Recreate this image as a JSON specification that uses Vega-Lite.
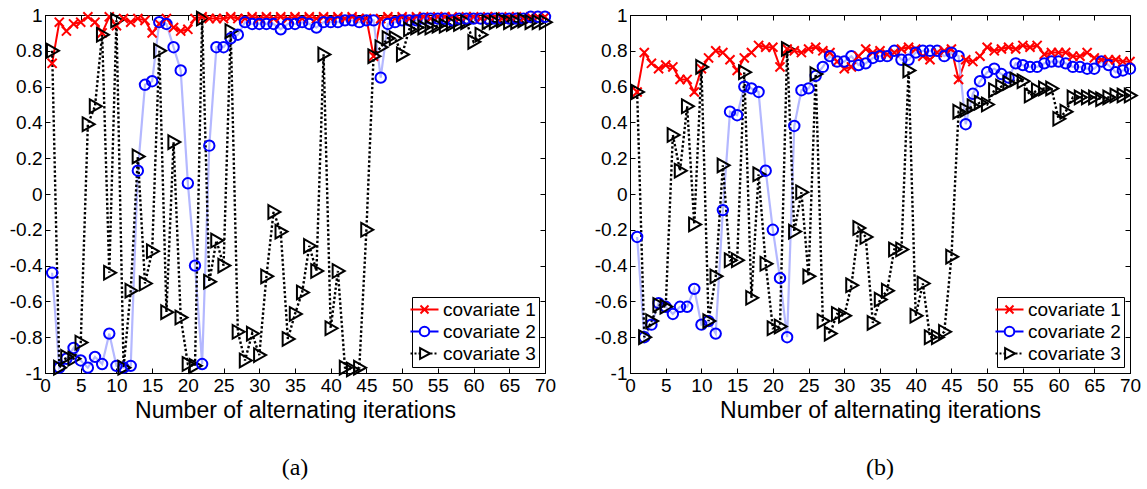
{
  "$schema": "https://vega.github.io/schema/vega-lite/v6.json",
  "background": "white",
  "padding": {"left": 8, "top": 5, "right": 5, "bottom": 5},
  "config": {
    "font": "Liberation Sans",
    "view": {"stroke": "black", "strokeWidth": 1},
    "axis": {"domainColor": "black", "tickColor": "black", "labelColor": "black", "titleColor": "black", "grid": false, "labelFont": "Liberation Sans", "titleFont": "Liberation Sans", "titleFontWeight": "normal", "domainWidth": 1, "tickWidth": 1},
    "legend": {"title": null, "orient": "bottom-right", "offset": 6, "strokeColor": "black", "fillColor": "white", "padding": 3, "labelFontSize": 19, "labelFont": "Liberation Sans", "labelColor": "black", "symbolSize": 64, "symbolStrokeWidth": 2, "symbolOffset": 0, "labelOffset": 9, "rowPadding": 2, "symbolOpacity": 1, "cornerRadius": 0}
  },
  "data": {"values": [
    {"p":"a","x":1,"covariate 1":0.73,"covariate 2":-0.44,"covariate 3":0.80},
    {"p":"a","x":2,"covariate 1":0.96,"covariate 2":-0.97,"covariate 3":-0.97},
    {"p":"a","x":3,"covariate 1":0.91,"covariate 2":-0.92,"covariate 3":-0.91},
    {"p":"a","x":4,"covariate 1":0.95,"covariate 2":-0.86,"covariate 3":-0.92},
    {"p":"a","x":5,"covariate 1":0.96,"covariate 2":-0.93,"covariate 3":-0.83},
    {"p":"a","x":6,"covariate 1":0.99,"covariate 2":-0.97,"covariate 3":0.39},
    {"p":"a","x":7,"covariate 1":0.96,"covariate 2":-0.91,"covariate 3":0.49},
    {"p":"a","x":8,"covariate 1":0.90,"covariate 2":-0.95,"covariate 3":0.89},
    {"p":"a","x":9,"covariate 1":0.99,"covariate 2":-0.78,"covariate 3":-0.44},
    {"p":"a","x":10,"covariate 1":0.94,"covariate 2":-0.96,"covariate 3":0.97},
    {"p":"a","x":11,"covariate 1":0.98,"covariate 2":-0.97,"covariate 3":-0.97},
    {"p":"a","x":12,"covariate 1":0.96,"covariate 2":-0.96,"covariate 3":-0.54},
    {"p":"a","x":13,"covariate 1":0.98,"covariate 2":0.13,"covariate 3":0.21},
    {"p":"a","x":14,"covariate 1":0.97,"covariate 2":0.61,"covariate 3":-0.50},
    {"p":"a","x":15,"covariate 1":0.90,"covariate 2":0.63,"covariate 3":-0.32},
    {"p":"a","x":16,"covariate 1":0.95,"covariate 2":0.96,"covariate 3":0.80},
    {"p":"a","x":17,"covariate 1":0.98,"covariate 2":0.95,"covariate 3":-0.66},
    {"p":"a","x":18,"covariate 1":0.93,"covariate 2":0.82,"covariate 3":0.29},
    {"p":"a","x":19,"covariate 1":0.91,"covariate 2":0.69,"covariate 3":-0.69},
    {"p":"a","x":20,"covariate 1":0.92,"covariate 2":0.06,"covariate 3":-0.95},
    {"p":"a","x":21,"covariate 1":0.98,"covariate 2":-0.40,"covariate 3":-0.96},
    {"p":"a","x":22,"covariate 1":0.99,"covariate 2":-0.95,"covariate 3":0.98},
    {"p":"a","x":23,"covariate 1":0.98,"covariate 2":0.27,"covariate 3":-0.49},
    {"p":"a","x":24,"covariate 1":0.98,"covariate 2":0.82,"covariate 3":-0.26},
    {"p":"a","x":25,"covariate 1":0.98,"covariate 2":0.82,"covariate 3":-0.40},
    {"p":"a","x":26,"covariate 1":0.99,"covariate 2":0.87,"covariate 3":0.91},
    {"p":"a","x":27,"covariate 1":0.98,"covariate 2":0.89,"covariate 3":-0.77},
    {"p":"a","x":28,"covariate 1":0.98,"covariate 2":0.96,"covariate 3":-0.93},
    {"p":"a","x":29,"covariate 1":0.99,"covariate 2":0.95,"covariate 3":-0.78},
    {"p":"a","x":30,"covariate 1":0.98,"covariate 2":0.95,"covariate 3":-0.90},
    {"p":"a","x":31,"covariate 1":0.99,"covariate 2":0.95,"covariate 3":-0.46},
    {"p":"a","x":32,"covariate 1":0.98,"covariate 2":0.95,"covariate 3":-0.10},
    {"p":"a","x":33,"covariate 1":0.99,"covariate 2":0.92,"covariate 3":-0.21},
    {"p":"a","x":34,"covariate 1":0.98,"covariate 2":0.95,"covariate 3":-0.81},
    {"p":"a","x":35,"covariate 1":0.99,"covariate 2":0.95,"covariate 3":-0.67},
    {"p":"a","x":36,"covariate 1":0.98,"covariate 2":0.96,"covariate 3":-0.55},
    {"p":"a","x":37,"covariate 1":0.99,"covariate 2":0.95,"covariate 3":-0.29},
    {"p":"a","x":38,"covariate 1":0.98,"covariate 2":0.93,"covariate 3":-0.43},
    {"p":"a","x":39,"covariate 1":0.99,"covariate 2":0.96,"covariate 3":0.78},
    {"p":"a","x":40,"covariate 1":0.98,"covariate 2":0.96,"covariate 3":-0.75},
    {"p":"a","x":41,"covariate 1":0.99,"covariate 2":0.96,"covariate 3":-0.43},
    {"p":"a","x":42,"covariate 1":0.98,"covariate 2":0.97,"covariate 3":-0.97},
    {"p":"a","x":43,"covariate 1":0.99,"covariate 2":0.97,"covariate 3":-0.98},
    {"p":"a","x":44,"covariate 1":0.98,"covariate 2":0.96,"covariate 3":-0.97},
    {"p":"a","x":45,"covariate 1":0.98,"covariate 2":0.97,"covariate 3":-0.20},
    {"p":"a","x":46,"covariate 1":0.77,"covariate 2":0.97,"covariate 3":0.77},
    {"p":"a","x":47,"covariate 1":0.98,"covariate 2":0.65,"covariate 3":0.82},
    {"p":"a","x":48,"covariate 1":0.99,"covariate 2":0.95,"covariate 3":0.87},
    {"p":"a","x":49,"covariate 1":0.98,"covariate 2":0.96,"covariate 3":0.87},
    {"p":"a","x":50,"covariate 1":0.99,"covariate 2":0.97,"covariate 3":0.78},
    {"p":"a","x":51,"covariate 1":0.98,"covariate 2":0.97,"covariate 3":0.92},
    {"p":"a","x":52,"covariate 1":0.99,"covariate 2":0.97,"covariate 3":0.93},
    {"p":"a","x":53,"covariate 1":0.99,"covariate 2":0.98,"covariate 3":0.93},
    {"p":"a","x":54,"covariate 1":0.98,"covariate 2":0.98,"covariate 3":0.93},
    {"p":"a","x":55,"covariate 1":0.99,"covariate 2":0.98,"covariate 3":0.94},
    {"p":"a","x":56,"covariate 1":0.99,"covariate 2":0.98,"covariate 3":0.94},
    {"p":"a","x":57,"covariate 1":0.99,"covariate 2":0.97,"covariate 3":0.95},
    {"p":"a","x":58,"covariate 1":0.98,"covariate 2":0.98,"covariate 3":0.95},
    {"p":"a","x":59,"covariate 1":0.99,"covariate 2":0.98,"covariate 3":0.96},
    {"p":"a","x":60,"covariate 1":0.99,"covariate 2":0.98,"covariate 3":0.85},
    {"p":"a","x":61,"covariate 1":0.98,"covariate 2":0.98,"covariate 3":0.89},
    {"p":"a","x":62,"covariate 1":0.99,"covariate 2":0.98,"covariate 3":0.96},
    {"p":"a","x":63,"covariate 1":0.99,"covariate 2":0.98,"covariate 3":0.96},
    {"p":"a","x":64,"covariate 1":0.98,"covariate 2":0.98,"covariate 3":0.97},
    {"p":"a","x":65,"covariate 1":0.99,"covariate 2":0.98,"covariate 3":0.96},
    {"p":"a","x":66,"covariate 1":0.99,"covariate 2":0.98,"covariate 3":0.96},
    {"p":"a","x":67,"covariate 1":0.98,"covariate 2":0.98,"covariate 3":0.97},
    {"p":"a","x":68,"covariate 1":0.99,"covariate 2":0.99,"covariate 3":0.96},
    {"p":"a","x":69,"covariate 1":0.99,"covariate 2":0.99,"covariate 3":0.96},
    {"p":"a","x":70,"covariate 1":0.99,"covariate 2":0.99,"covariate 3":0.96},
    {"p":"b","x":1,"covariate 1":0.57,"covariate 2":-0.24,"covariate 3":0.57},
    {"p":"b","x":2,"covariate 1":0.79,"covariate 2":-0.80,"covariate 3":-0.80},
    {"p":"b","x":3,"covariate 1":0.73,"covariate 2":-0.73,"covariate 3":-0.71},
    {"p":"b","x":4,"covariate 1":0.70,"covariate 2":-0.61,"covariate 3":-0.62},
    {"p":"b","x":5,"covariate 1":0.72,"covariate 2":-0.63,"covariate 3":-0.63},
    {"p":"b","x":6,"covariate 1":0.71,"covariate 2":-0.67,"covariate 3":0.33},
    {"p":"b","x":7,"covariate 1":0.64,"covariate 2":-0.63,"covariate 3":0.13},
    {"p":"b","x":8,"covariate 1":0.64,"covariate 2":-0.63,"covariate 3":0.49},
    {"p":"b","x":9,"covariate 1":0.57,"covariate 2":-0.53,"covariate 3":-0.17},
    {"p":"b","x":10,"covariate 1":0.70,"covariate 2":-0.73,"covariate 3":0.71},
    {"p":"b","x":11,"covariate 1":0.76,"covariate 2":-0.71,"covariate 3":-0.71},
    {"p":"b","x":12,"covariate 1":0.80,"covariate 2":-0.78,"covariate 3":-0.46},
    {"p":"b","x":13,"covariate 1":0.79,"covariate 2":-0.09,"covariate 3":0.16},
    {"p":"b","x":14,"covariate 1":0.75,"covariate 2":0.46,"covariate 3":-0.37},
    {"p":"b","x":15,"covariate 1":0.69,"covariate 2":0.44,"covariate 3":-0.37},
    {"p":"b","x":16,"covariate 1":0.76,"covariate 2":0.60,"covariate 3":0.68},
    {"p":"b","x":17,"covariate 1":0.79,"covariate 2":0.59,"covariate 3":-0.58},
    {"p":"b","x":18,"covariate 1":0.83,"covariate 2":0.57,"covariate 3":0.11},
    {"p":"b","x":19,"covariate 1":0.82,"covariate 2":0.13,"covariate 3":-0.39},
    {"p":"b","x":20,"covariate 1":0.82,"covariate 2":-0.20,"covariate 3":-0.75},
    {"p":"b","x":21,"covariate 1":0.71,"covariate 2":-0.47,"covariate 3":-0.74},
    {"p":"b","x":22,"covariate 1":0.81,"covariate 2":-0.80,"covariate 3":0.81},
    {"p":"b","x":23,"covariate 1":0.80,"covariate 2":0.38,"covariate 3":-0.21},
    {"p":"b","x":24,"covariate 1":0.79,"covariate 2":0.58,"covariate 3":0.01},
    {"p":"b","x":25,"covariate 1":0.81,"covariate 2":0.59,"covariate 3":-0.46},
    {"p":"b","x":26,"covariate 1":0.82,"covariate 2":0.66,"covariate 3":0.67},
    {"p":"b","x":27,"covariate 1":0.80,"covariate 2":0.71,"covariate 3":-0.71},
    {"p":"b","x":28,"covariate 1":0.79,"covariate 2":0.77,"covariate 3":-0.78},
    {"p":"b","x":29,"covariate 1":0.74,"covariate 2":0.74,"covariate 3":-0.67},
    {"p":"b","x":30,"covariate 1":0.70,"covariate 2":0.74,"covariate 3":-0.68},
    {"p":"b","x":31,"covariate 1":0.71,"covariate 2":0.77,"covariate 3":-0.51},
    {"p":"b","x":32,"covariate 1":0.77,"covariate 2":0.72,"covariate 3":-0.19},
    {"p":"b","x":33,"covariate 1":0.81,"covariate 2":0.73,"covariate 3":-0.24},
    {"p":"b","x":34,"covariate 1":0.79,"covariate 2":0.76,"covariate 3":-0.72},
    {"p":"b","x":35,"covariate 1":0.80,"covariate 2":0.77,"covariate 3":-0.59},
    {"p":"b","x":36,"covariate 1":0.78,"covariate 2":0.77,"covariate 3":-0.54},
    {"p":"b","x":37,"covariate 1":0.79,"covariate 2":0.80,"covariate 3":-0.31},
    {"p":"b","x":38,"covariate 1":0.81,"covariate 2":0.75,"covariate 3":-0.31},
    {"p":"b","x":39,"covariate 1":0.82,"covariate 2":0.75,"covariate 3":0.69},
    {"p":"b","x":40,"covariate 1":0.81,"covariate 2":0.79,"covariate 3":-0.68},
    {"p":"b","x":41,"covariate 1":0.77,"covariate 2":0.80,"covariate 3":-0.50},
    {"p":"b","x":42,"covariate 1":0.75,"covariate 2":0.80,"covariate 3":-0.80},
    {"p":"b","x":43,"covariate 1":0.79,"covariate 2":0.80,"covariate 3":-0.80},
    {"p":"b","x":44,"covariate 1":0.80,"covariate 2":0.77,"covariate 3":-0.77},
    {"p":"b","x":45,"covariate 1":0.81,"covariate 2":0.79,"covariate 3":-0.35},
    {"p":"b","x":46,"covariate 1":0.64,"covariate 2":0.77,"covariate 3":0.46},
    {"p":"b","x":47,"covariate 1":0.75,"covariate 2":0.39,"covariate 3":0.47},
    {"p":"b","x":48,"covariate 1":0.74,"covariate 2":0.56,"covariate 3":0.49},
    {"p":"b","x":49,"covariate 1":0.77,"covariate 2":0.63,"covariate 3":0.51},
    {"p":"b","x":50,"covariate 1":0.82,"covariate 2":0.68,"covariate 3":0.50},
    {"p":"b","x":51,"covariate 1":0.80,"covariate 2":0.70,"covariate 3":0.58},
    {"p":"b","x":52,"covariate 1":0.81,"covariate 2":0.67,"covariate 3":0.60},
    {"p":"b","x":53,"covariate 1":0.82,"covariate 2":0.65,"covariate 3":0.62},
    {"p":"b","x":54,"covariate 1":0.81,"covariate 2":0.73,"covariate 3":0.64},
    {"p":"b","x":55,"covariate 1":0.83,"covariate 2":0.72,"covariate 3":0.63},
    {"p":"b","x":56,"covariate 1":0.82,"covariate 2":0.71,"covariate 3":0.55},
    {"p":"b","x":57,"covariate 1":0.83,"covariate 2":0.71,"covariate 3":0.58},
    {"p":"b","x":58,"covariate 1":0.78,"covariate 2":0.73,"covariate 3":0.59},
    {"p":"b","x":59,"covariate 1":0.79,"covariate 2":0.74,"covariate 3":0.59},
    {"p":"b","x":60,"covariate 1":0.79,"covariate 2":0.74,"covariate 3":0.42},
    {"p":"b","x":61,"covariate 1":0.79,"covariate 2":0.73,"covariate 3":0.46},
    {"p":"b","x":62,"covariate 1":0.77,"covariate 2":0.71,"covariate 3":0.54},
    {"p":"b","x":63,"covariate 1":0.77,"covariate 2":0.71,"covariate 3":0.54},
    {"p":"b","x":64,"covariate 1":0.79,"covariate 2":0.70,"covariate 3":0.54},
    {"p":"b","x":65,"covariate 1":0.76,"covariate 2":0.70,"covariate 3":0.54},
    {"p":"b","x":66,"covariate 1":0.75,"covariate 2":0.74,"covariate 3":0.53},
    {"p":"b","x":67,"covariate 1":0.75,"covariate 2":0.72,"covariate 3":0.54},
    {"p":"b","x":68,"covariate 1":0.75,"covariate 2":0.68,"covariate 3":0.55},
    {"p":"b","x":69,"covariate 1":0.74,"covariate 2":0.69,"covariate 3":0.55},
    {"p":"b","x":70,"covariate 1":0.74,"covariate 2":0.70,"covariate 3":0.55}
  ]},
  "spacing": 36,
  "resolve": {"scale": {"color": "independent", "shape": "independent", "strokeDash": "independent", "strokeWidth": "independent"}, "legend": {"color": "independent", "shape": "independent"}},
  "hconcat": [
    {
      "width": 500, "height": 358,
      "title": {"text": "(a)", "orient": "bottom", "font": "Liberation Serif", "fontSize": 24, "fontWeight": "normal", "offset": 34, "color": "black"},
      "transform": [{"filter": "datum.p == 'a'"}, {"fold": ["covariate 1", "covariate 2", "covariate 3"], "as": ["series", "y"]}],
      "layer": [
        {
          "mark": {"type": "line"},
          "encoding": {
            "x": {"field": "x", "type": "quantitative", "scale": {"domain": [0, 70], "nice": false}, "axis": {"orient": "bottom", "values": [0,5,10,15,20,25,30,35,40,45,50,55,60,65,70], "title": "Number of alternating iterations", "labelFlush": false, "tickSize": -5, "labelPadding": 8, "labelFontSize": 19, "titleFontSize": 23, "titlePadding": 4}},
            "y": {"field": "y", "type": "quantitative", "scale": {"domain": [-1, 1], "nice": false, "zero": false}, "axis": {"orient": "left", "values": [-1,-0.8,-0.6,-0.4,-0.2,0,0.2,0.4,0.6,0.8,1], "title": null, "labelExpr": "toString(round(datum.value*10)/10)", "tickSize": -5, "labelPadding": 8, "labelFontSize": 19}},
            "color": {"field": "series", "type": "nominal", "scale": {"domain": ["covariate 1", "covariate 2", "covariate 3"], "range": ["#ff0000", "#b4b8ff", "#000000"]}, "legend": null},
            "strokeDash": {"field": "series", "type": "nominal", "scale": {"domain": ["covariate 1", "covariate 2", "covariate 3"], "range": [[1, 0], [1, 0], [2.4, 2.2]]}, "legend": null},
            "strokeWidth": {"field": "series", "type": "nominal", "scale": {"domain": ["covariate 1", "covariate 2", "covariate 3"], "range": [2, 2.4, 2.6]}, "legend": null},
            "order": {"field": "x", "type": "quantitative"}
          }
        },
        {
          "mark": {"type": "point", "filled": false, "strokeWidth": 2, "size": 169, "opacity": 1},
          "encoding": {
            "x": {"field": "x", "type": "quantitative", "scale": {"domain": [0, 70], "nice": false}, "axis": {"orient": "top", "values": [0,5,10,15,20,25,30,35,40,45,50,55,60,65,70], "labels": false, "title": null, "tickSize": -5}},
            "y": {"field": "y", "type": "quantitative", "scale": {"domain": [-1, 1], "nice": false, "zero": false}, "axis": {"orient": "right", "values": [-1,-0.8,-0.6,-0.4,-0.2,0,0.2,0.4,0.6,0.8,1], "labels": false, "title": null, "tickSize": -5}},
            "color": {"field": "series", "type": "nominal", "scale": {"domain": ["covariate 1", "covariate 2", "covariate 3"], "range": ["#ff0000", "#0000ff", "#000000"]}, "legend": null},
            "shape": {"field": "series", "type": "nominal", "scale": {"domain": ["covariate 1", "covariate 2", "covariate 3"], "range": ["M-0.7,-0.7L0.7,0.7M-0.7,0.7L0.7,-0.7", "M0.8,0A0.8,0.8,0,1,1,-0.8,0A0.8,0.8,0,1,1,0.8,0Z", "M-0.8,-1.05L1.05,0L-0.8,1.05Z"]}, "legend": null}
          }
        },
        {
          "mark": {"type": "point", "filled": false, "strokeWidth": 2, "opacity": 0},
          "encoding": {
            "x": {"field": "x", "type": "quantitative", "scale": {"domain": [0, 70], "nice": false}, "axis": null},
            "y": {"field": "y", "type": "quantitative", "scale": {"domain": [-1, 1], "nice": false, "zero": false}, "axis": null},
            "color": {"field": "series", "type": "nominal", "scale": {"domain": ["covariate 1", "covariate 2", "covariate 3"], "range": ["#ff0000", "#0000ff", "#000000"]}, "legend": {"title": null}},
            "shape": {"field": "series", "type": "nominal", "scale": {"domain": ["covariate 1", "covariate 2", "covariate 3"], "range": ["M-3.5,0L3.5,0M-1,-1L1,1M-1,1L1,-1", "M-3.5,0L-1.2,0M1.2,0L3.5,0M1.2,0A1.2,1.2,0,1,1,-1.2,0A1.2,1.2,0,1,1,1.2,0Z", "M-3.5,0L-3,0M-2.5,0L-2,0M-1.5,0L-1.1,0M1.5,0L2,0M2.5,0L3,0M-1.1,-1.35L1.4,0L-1.1,1.35Z"]}, "legend": {"title": null}}
          }
        }
      ],
      "resolve": {"scale": {"color": "independent", "shape": "independent"}, "axis": {"x": "independent", "y": "independent"}}
    },
    {
      "width": 500, "height": 358,
      "title": {"text": "(b)", "orient": "bottom", "font": "Liberation Serif", "fontSize": 24, "fontWeight": "normal", "offset": 34, "color": "black"},
      "transform": [{"filter": "datum.p == 'b'"}, {"fold": ["covariate 1", "covariate 2", "covariate 3"], "as": ["series", "y"]}],
      "layer": [
        {
          "mark": {"type": "line"},
          "encoding": {
            "x": {"field": "x", "type": "quantitative", "scale": {"domain": [0, 70], "nice": false}, "axis": {"orient": "bottom", "values": [0,5,10,15,20,25,30,35,40,45,50,55,60,65,70], "title": "Number of alternating iterations", "labelFlush": false, "tickSize": -5, "labelPadding": 8, "labelFontSize": 19, "titleFontSize": 23, "titlePadding": 4}},
            "y": {"field": "y", "type": "quantitative", "scale": {"domain": [-1, 1], "nice": false, "zero": false}, "axis": {"orient": "left", "values": [-1,-0.8,-0.6,-0.4,-0.2,0,0.2,0.4,0.6,0.8,1], "title": null, "labelExpr": "toString(round(datum.value*10)/10)", "tickSize": -5, "labelPadding": 8, "labelFontSize": 19}},
            "color": {"field": "series", "type": "nominal", "scale": {"domain": ["covariate 1", "covariate 2", "covariate 3"], "range": ["#ff0000", "#b4b8ff", "#000000"]}, "legend": null},
            "strokeDash": {"field": "series", "type": "nominal", "scale": {"domain": ["covariate 1", "covariate 2", "covariate 3"], "range": [[1, 0], [1, 0], [2.4, 2.2]]}, "legend": null},
            "strokeWidth": {"field": "series", "type": "nominal", "scale": {"domain": ["covariate 1", "covariate 2", "covariate 3"], "range": [2, 2.4, 2.6]}, "legend": null},
            "order": {"field": "x", "type": "quantitative"}
          }
        },
        {
          "mark": {"type": "point", "filled": false, "strokeWidth": 2, "size": 169, "opacity": 1},
          "encoding": {
            "x": {"field": "x", "type": "quantitative", "scale": {"domain": [0, 70], "nice": false}, "axis": {"orient": "top", "values": [0,5,10,15,20,25,30,35,40,45,50,55,60,65,70], "labels": false, "title": null, "tickSize": -5}},
            "y": {"field": "y", "type": "quantitative", "scale": {"domain": [-1, 1], "nice": false, "zero": false}, "axis": {"orient": "right", "values": [-1,-0.8,-0.6,-0.4,-0.2,0,0.2,0.4,0.6,0.8,1], "labels": false, "title": null, "tickSize": -5}},
            "color": {"field": "series", "type": "nominal", "scale": {"domain": ["covariate 1", "covariate 2", "covariate 3"], "range": ["#ff0000", "#0000ff", "#000000"]}, "legend": null},
            "shape": {"field": "series", "type": "nominal", "scale": {"domain": ["covariate 1", "covariate 2", "covariate 3"], "range": ["M-0.7,-0.7L0.7,0.7M-0.7,0.7L0.7,-0.7", "M0.8,0A0.8,0.8,0,1,1,-0.8,0A0.8,0.8,0,1,1,0.8,0Z", "M-0.8,-1.05L1.05,0L-0.8,1.05Z"]}, "legend": null}
          }
        },
        {
          "mark": {"type": "point", "filled": false, "strokeWidth": 2, "opacity": 0},
          "encoding": {
            "x": {"field": "x", "type": "quantitative", "scale": {"domain": [0, 70], "nice": false}, "axis": null},
            "y": {"field": "y", "type": "quantitative", "scale": {"domain": [-1, 1], "nice": false, "zero": false}, "axis": null},
            "color": {"field": "series", "type": "nominal", "scale": {"domain": ["covariate 1", "covariate 2", "covariate 3"], "range": ["#ff0000", "#0000ff", "#000000"]}, "legend": {"title": null}},
            "shape": {"field": "series", "type": "nominal", "scale": {"domain": ["covariate 1", "covariate 2", "covariate 3"], "range": ["M-3.5,0L3.5,0M-1,-1L1,1M-1,1L1,-1", "M-3.5,0L-1.2,0M1.2,0L3.5,0M1.2,0A1.2,1.2,0,1,1,-1.2,0A1.2,1.2,0,1,1,1.2,0Z", "M-3.5,0L-3,0M-2.5,0L-2,0M-1.5,0L-1.1,0M1.5,0L2,0M2.5,0L3,0M-1.1,-1.35L1.4,0L-1.1,1.35Z"]}, "legend": {"title": null}}
          }
        }
      ],
      "resolve": {"scale": {"color": "independent", "shape": "independent"}, "axis": {"x": "independent", "y": "independent"}}
    }
  ]
}
